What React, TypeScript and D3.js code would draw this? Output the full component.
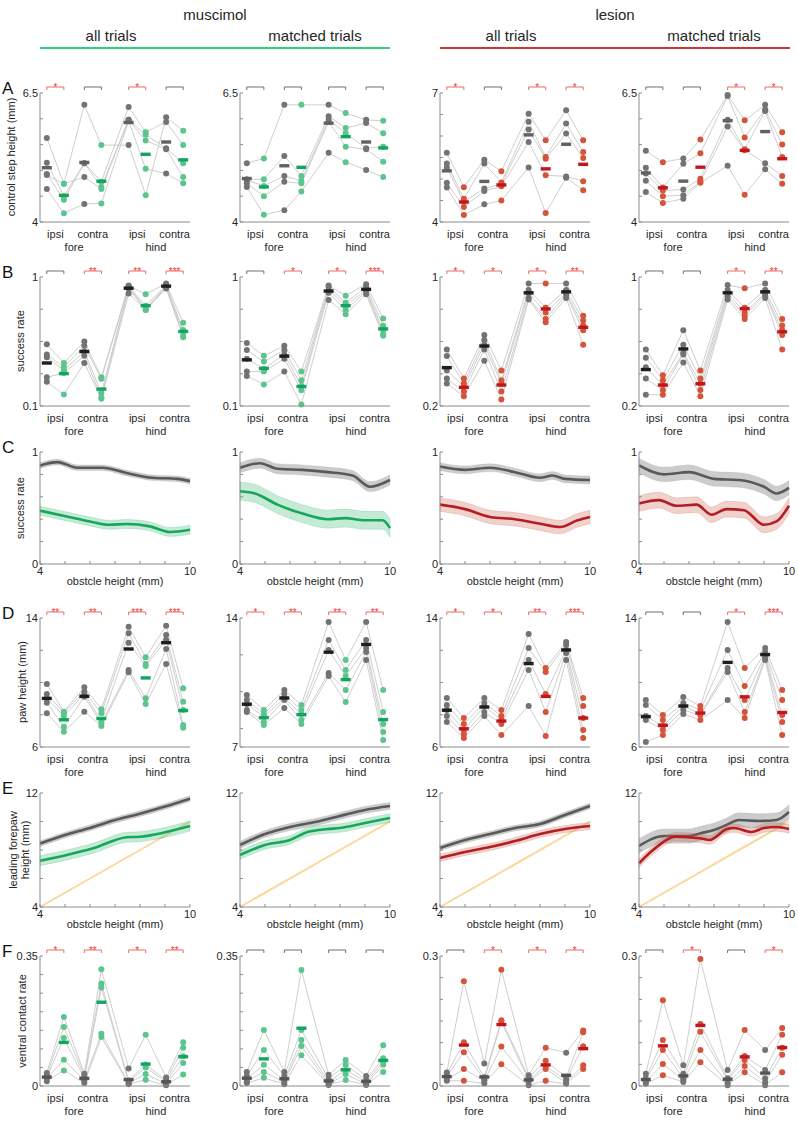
import React from 'react';
import * as d3 from 'd3';

const W = 798;
const H = 1121;
const colLeft = [40, 240, 440, 639];
const PW = 150;
const FONT = 'Liberation Sans, Arial, sans-serif';

// slot order: fore ipsi ctrl/treat, fore contra ctrl/treat, hind ipsi ctrl/treat, hind contra ctrl/treat
const slotPos = [1, 2, 3.2, 4.2, 5.8, 6.8, 8, 9];
const sideLabels = ['ipsi', 'contra', 'ipsi', 'contra'];
const limbLabels = ['fore', 'hind'];
const groupTitles = ['muscimol', 'lesion'];
const subTitles = ['all trials', 'matched trials', 'all trials', 'matched trials'];

// ---- row A: control step height (mm)
const stepHeight = [
  [[5.63, 5.15, 4.93, 4.91, 4.64], [4.74, 4.5, 4.43, 4.74, 4.17], [6.27, 5.14, 5.14, 4.87, 4.35], [5.49, 4.78, 4.68, 4.64, 4.36],
   [5.49, 6.23, 5.98, 5.98, 5.96], [4.52, 5.74, 5.69, 5.58, 5.03], [6.03, 5.94, 5.43, 5.41, 4.94], [5.77, 5.49, 5.14, 4.87, 4.75]],
  [[5.14, 4.83, 4.81, 4.75, 4.68], [5.23, 4.83, 4.7, 4.5, 4.14], [6.27, 5.28, 4.89, 4.78, 4.23], [6.27, 4.89, 4.8, 4.75, 4.59],
   [6.27, 6.05, 5.98, 5.94, 5.34], [6.11, 5.82, 5.72, 5.46, 5.16], [5.98, 5.92, 5.43, 5.41, 5.01], [5.96, 5.72, 5.46, 5.17, 4.87]],
  [[5.61, 5.36, 5.27, 4.91, 4.8], [4.81, 4.54, 4.47, 4.35, 4.16], [5.45, 5.36, 4.78, 4.72, 4.41], [5.18, 4.92, 4.88, 4.83, 4.5],
   [6.52, 6.33, 6.15, 5.86, 5.27], [5.9, 5.51, 5.47, 5.09, 4.21], [6.6, 6.29, 6.06, 5.06, 5.03], [5.9, 5.63, 5.49, 4.95, 4.74]],
  [[5.38, 5.05, 4.94, 4.8, 4.58], [5.16, 4.67, 4.61, 4.5, 4.37], [5.23, 5.13, 4.63, 4.52, 4.45], [5.6, 5.33, 4.84, 4.78, 4.76],
   [6.46, 6.44, 5.98, 5.85, 5.09], [5.97, 5.64, 5.41, 5.39, 4.53], [6.27, 6.18, 6.15, 5.14, 5.02], [5.74, 5.5, 5.26, 4.89, 4.74]],
];
const stepDomain = [[4, 6.5], [4, 6.5], [4, 7], [4, 6.5]];
const stepStars = [['*', '', '*', ''], ['', '', '', ''], ['*', '', '*', '*'], ['', '', '*', '*']];

// ---- row B: success rate
const successRate = [
  [[0.53, 0.46, 0.44, 0.3, 0.27], [0.4, 0.37, 0.35, 0.33, 0.18], [0.55, 0.52, 0.48, 0.45, 0.4], [0.3, 0.29, 0.19, 0.16, 0.15],
   [0.94, 0.935, 0.93, 0.92, 0.885], [0.88, 0.8, 0.78, 0.77, 0.77], [0.954, 0.942, 0.935, 0.93, 0.92], [0.68, 0.63, 0.62, 0.59, 0.58]],
  [[0.54, 0.49, 0.43, 0.34, 0.31], [0.45, 0.41, 0.36, 0.34, 0.25], [0.52, 0.49, 0.46, 0.43, 0.34], [0.34, 0.28, 0.24, 0.21, 0.11],
   [0.94, 0.93, 0.91, 0.89, 0.84], [0.87, 0.82, 0.8, 0.77, 0.74], [0.95, 0.93, 0.91, 0.9, 0.88], [0.71, 0.66, 0.63, 0.6, 0.59]],
  [[0.55, 0.51, 0.42, 0.37, 0.34], [0.37, 0.34, 0.32, 0.29, 0.26], [0.64, 0.61, 0.58, 0.55, 0.48], [0.42, 0.36, 0.34, 0.29, 0.24],
   [0.96, 0.92, 0.9, 0.87, 0.86], [0.96, 0.81, 0.78, 0.74, 0.72], [0.96, 0.92, 0.9, 0.89, 0.87], [0.76, 0.73, 0.7, 0.67, 0.58]],
  [[0.55, 0.5, 0.44, 0.37, 0.27], [0.39, 0.36, 0.33, 0.3, 0.27], [0.67, 0.58, 0.53, 0.52, 0.47], [0.42, 0.37, 0.34, 0.3, 0.26],
   [0.95, 0.92, 0.9, 0.88, 0.86], [0.93, 0.81, 0.78, 0.76, 0.74], [0.96, 0.92, 0.9, 0.89, 0.87], [0.74, 0.7, 0.67, 0.64, 0.55]],
];
const successDomain = [[0.1, 1], [0.1, 1], [0.2, 1], [0.2, 1]];
const successStars = [['', '**', '**', '***'], ['', '*', '*', '***'], ['*', '*', '*', '**'], ['', '', '*', '**']];

// ---- row C: success rate vs obstacle height
const curveCtrlX = [
  [4, 4.7, 5.5, 6.5, 7.5, 8.5, 9.5, 10],
  [4, 4.8, 5.5, 6.5, 7.5, 8.5, 9.2, 10],
  [4, 5, 6, 7, 8, 8.5, 9, 10],
  [4, 5, 6, 7, 8, 9, 9.5, 10],
];
const curveCtrlY = [
  [0.88, 0.91, 0.86, 0.86, 0.81, 0.77, 0.76, 0.74],
  [0.86, 0.9, 0.85, 0.84, 0.82, 0.79, 0.69, 0.75],
  [0.87, 0.84, 0.86, 0.82, 0.77, 0.79, 0.76, 0.75],
  [0.88, 0.8, 0.82, 0.76, 0.75, 0.69, 0.63, 0.68],
];
const curveCtrlSem = [0.025, 0.045, 0.035, 0.065];
const curveTreatX = [
  [4, 5.07, 6, 6.8, 7.47, 8.4, 9.2, 10],
  [4, 4.6, 5.5, 6.5, 7.5, 8.2, 9, 9.7, 10],
  [4, 5, 6, 7, 8, 8.8, 9.5, 10],
  [4, 4.8, 5.5, 6.3, 6.9, 7.5, 8.2, 9, 9.5, 10],
];
const curveTreatY = [
  [0.476, 0.425, 0.38, 0.35, 0.357, 0.336, 0.286, 0.306],
  [0.65, 0.63, 0.53, 0.45, 0.4, 0.41, 0.39, 0.39, 0.32],
  [0.53, 0.49, 0.42, 0.4, 0.36, 0.33, 0.39, 0.42],
  [0.54, 0.57, 0.52, 0.53, 0.44, 0.49, 0.48, 0.35, 0.38, 0.52],
];
const curveTreatSem = [0.04, 0.08, 0.06, 0.07];

// ---- row D: paw height (mm)
const pawHeight = [
  [[9.91, 9.29, 9.02, 8.75, 8.09], [8.19, 8.13, 7.92, 7.26, 6.95], [9.7, 9.43, 9.29, 9.12, 8.19], [8.34, 8.09, 7.63, 7.47, 7.3],
   [13.46, 13.05, 12.47, 10.78, 10.63], [11.56, 11.15, 11.02, 9.02, 8.67], [13.52, 12.95, 12.64, 12.08, 11.15], [9.64, 8.81, 8.29, 7.36, 7.2]],
  [[9.82, 9.55, 9.33, 9.01, 8.9], [9.01, 8.79, 8.63, 8.36, 8.19], [10.09, 9.88, 9.66, 9.55, 9.12], [9.28, 9.01, 8.79, 8.46, 8.25],
   [13.78, 12.81, 12.26, 11.02, 10.85], [11.72, 11.18, 10.85, 10.09, 9.44], [13.78, 12.81, 12.37, 12.15, 11.72], [10.09, 8.9, 8.25, 7.81, 7.38]],
  [[9.04, 8.6, 8.29, 7.92, 7.55], [7.8, 7.43, 7.05, 6.81, 6.56], [9.04, 8.73, 8.54, 8.17, 7.92], [8.29, 7.92, 7.67, 7.43, 6.74],
   [13.01, 12.14, 11.4, 10.78, 8.54], [10.9, 10.65, 9.29, 8.17, 6.68], [12.51, 12.33, 12.02, 11.83, 11.4], [9.04, 8.54, 7.8, 7.05, 6.56]],
  [[8.91, 8.6, 7.92, 7.67, 6.31], [7.98, 7.67, 7.3, 7.05, 6.74], [9.1, 8.73, 8.54, 8.29, 8.05], [8.54, 8.29, 8.05, 7.98, 7.67],
   [13.75, 12.02, 10.9, 10.65, 8.91], [10.9, 9.78, 8.91, 8.17, 7.8], [12.14, 11.89, 11.71, 11.52, 11.4], [9.53, 8.91, 7.98, 7.55, 6.74]],
];
const pawDomain = [[6, 14], [7, 14], [6, 14], [6, 14]];
const pawStars = [['**', '**', '***', '***'], ['*', '**', '**', '**'], ['*', '*', '**', '***'], ['', '', '*', '***']];

// ---- row E: leading forepaw height vs obstacle height
const leadCtrlX = [
  [4, 5, 6, 7, 8, 9, 10],
  [4, 5, 6, 7, 8, 9, 10],
  [4, 5, 6, 7, 8, 9, 10],
  [4, 5, 6, 6.5, 7, 7.5, 8, 8.8, 9.5, 10],
];
const leadCtrlY = [
  [8.45, 9.05, 9.55, 10.1, 10.55, 11.05, 11.6],
  [8.35, 9.12, 9.61, 9.96, 10.39, 10.81, 11.09],
  [8.14, 8.7, 9.12, 9.54, 9.82, 10.46, 11.09],
  [8.28, 8.98, 8.98, 9.19, 9.4, 9.75, 10.11, 10.04, 10.11, 10.67],
];
const leadCtrlSem = [0.2, 0.25, 0.2, 0.5];
const leadTreatX = [
  [4, 5.07, 6.13, 7.47, 8, 8.93, 10],
  [4, 5, 6, 6.7, 7.5, 8, 9, 10],
  [4, 5, 6, 7, 8, 9, 10],
  [4, 4.56, 5.49, 6.43, 6.83, 7.49, 7.8, 8.5, 9, 9.5, 10],
];
const leadTreatY = [
  [7.25, 7.65, 8.12, 8.89, 8.93, 9.21, 9.68],
  [7.65, 8.35, 8.7, 9.26, 9.47, 9.54, 9.89, 10.25],
  [7.44, 7.86, 8.21, 8.63, 9.12, 9.47, 9.68],
  [7.07, 8.0, 8.93, 8.82, 8.7, 9.45, 9.54, 9.26, 9.54, 9.61, 9.47],
];
const leadTreatSem = [0.35, 0.3, 0.25, 0.3];

// ---- row F: ventral contact rate
const contactRate = [
  [[0.035, 0.029, 0.023, 0.02, 0.013], [0.186, 0.159, 0.129, 0.071, 0.042], [0.033, 0.026, 0.02, 0.015, 0.008], [0.314, 0.276, 0.265, 0.141, 0.132],
   [0.047, 0.015, 0.011, 0.008, 0.005], [0.138, 0.058, 0.05, 0.032, 0.017], [0.023, 0.015, 0.011, 0.006, 0.002], [0.118, 0.103, 0.08, 0.062, 0.031]],
  [[0.038, 0.027, 0.019, 0.013, 0.008], [0.151, 0.097, 0.057, 0.038, 0.022], [0.038, 0.027, 0.016, 0.011, 0.005], [0.312, 0.151, 0.124, 0.108, 0.083],
   [0.03, 0.019, 0.011, 0.005, 0.003], [0.07, 0.057, 0.043, 0.032, 0.016], [0.027, 0.016, 0.011, 0.005, 0.003], [0.11, 0.075, 0.065, 0.057, 0.038]],
  [[0.031, 0.028, 0.023, 0.014, 0.012], [0.242, 0.101, 0.078, 0.039, 0.012], [0.052, 0.02, 0.015, 0.012, 0.006], [0.268, 0.152, 0.148, 0.091, 0.05],
   [0.025, 0.02, 0.014, 0.01, 0.002], [0.088, 0.058, 0.046, 0.039, 0.012], [0.077, 0.02, 0.014, 0.008, 0.005], [0.128, 0.124, 0.092, 0.048, 0.039]],
  [[0.028, 0.018, 0.014, 0.009, 0.005], [0.198, 0.106, 0.083, 0.051, 0.025], [0.048, 0.028, 0.018, 0.014, 0.009], [0.293, 0.143, 0.125, 0.083, 0.055],
   [0.037, 0.018, 0.014, 0.007, 0.002], [0.129, 0.069, 0.06, 0.046, 0.032], [0.083, 0.037, 0.018, 0.009, 0.002], [0.134, 0.118, 0.088, 0.072, 0.032]],
];
const contactDomain = [[0, 0.35], [0, 0.35], [0, 0.3], [0, 0.3]];
const contactStars = [['*', '**', '*', '**'], ['', '', '', ''], ['', '*', '*', '*'], ['', '*', '', '*']];

const palette = {
  musc: { line: '#17a75c', dot: '#5cc58e', bar: '#13a560', band: '#2fb56c', head: '#2ecf7f' },
  les: { line: '#b31d26', dot: '#d5533a', bar: '#c2161f', band: '#cc5a45', head: '#cc3530' },
};
const GRAY_DOT = '#737373';
const GRAY_LINE = '#595959';
const AXIS = '#8c8c8c';
const TXT = '#262626';

const fmt = (v: number) => String(+v.toFixed(3));

function YAxis({ left, y, ticks, labels }: any) {
  const [lo, hi] = y.domain();
  return (
    <g>
      <line x1={left} x2={left} y1={y(lo)} y2={y(hi)} stroke={AXIS} strokeWidth={1} />
      {ticks.map((t: number, i: number) => (
        <line key={i} x1={left} x2={left + 3} y1={y(t)} y2={y(t)} stroke={AXIS} strokeWidth={1} />
      ))}
      {labels.map((t: number, i: number) => (
        <text key={i} x={left - 2} y={y(t)} dy="0.35em" textAnchor="end" fontSize={11} fill={TXT}>{fmt(t)}</text>
      ))}
    </g>
  );
}

function DotPanel({ col, top, bottom, domain, ticks, slots, stars, ctrlBar }: any) {
  const left = colLeft[col];
  const pal = col < 2 ? palette.musc : palette.les;
  const x = d3.scaleLinear().domain([0.6, 9.4]).range([left, left + PW]);
  const y = d3.scaleLinear().domain(domain).range([bottom, top]);
  const n = slots[0].length;
  const animals = d3.range(n).map((i) => slots.map((s: number[]) => s[i]));
  const line = d3.line<number>().x((_, j) => x(slotPos[j])).y((v) => y(v));
  const means = slots.map((s: number[]) => d3.mean(s) as number);
  const yB = top - 6;
  return (
    <g>
      {animals.map((a, i) => (
        <path key={i} d={line(a) as string} fill="none" stroke="#c8c8c8" strokeWidth={0.9} />
      ))}
      {slots.map((s: number[], j: number) =>
        s.map((v, i) => (
          <circle key={j + '-' + i} cx={x(slotPos[j])} cy={y(v)} r={3} fill={j % 2 === 0 ? GRAY_DOT : pal.dot} />
        ))
      )}
      {means.map((m: number, j: number) => (
        <rect key={j} x={x(slotPos[j]) - 5} y={y(m) - 1.7} width={10} height={3.4} fill={j % 2 === 0 ? ctrlBar : pal.bar} />
      ))}
      <YAxis left={left} y={y} ticks={ticks} labels={[domain[1], domain[0]]} />
      <line x1={left} x2={left + PW} y1={bottom} y2={bottom} stroke={AXIS} strokeWidth={1} />
      {stars.map((s: string, k: number) => {
        const x1 = x(slotPos[2 * k]);
        const x2 = x(slotPos[2 * k + 1]);
        const c = s ? '#ef6a64' : '#6e6e6e';
        return (
          <g key={k}>
            <path d={`M${x1},${yB + 3}V${yB}H${x2}V${yB + 3}`} fill="none" stroke={c} strokeWidth={1} />
            {s && (
              <text x={(x1 + x2) / 2} y={yB + 3.5} textAnchor="middle" fontSize={10} fill="#ee3b3b">{s}</text>
            )}
          </g>
        );
      })}
      {sideLabels.map((l, k) => (
        <text key={k} x={x((slotPos[2 * k] + slotPos[2 * k + 1]) / 2)} y={bottom + 16} textAnchor="middle" fontSize={11} fill={TXT}>{l}</text>
      ))}
      {limbLabels.map((l, k) => (
        <text key={k} x={x((slotPos[4 * k + 1] + slotPos[4 * k + 2]) / 2)} y={bottom + 29} textAnchor="middle" fontSize={11} fill={TXT}>{l}</text>
      ))}
    </g>
  );
}

function LinePanel({ col, top, bottom, domain, ticks, ctrl, treat, diag }: any) {
  const left = colLeft[col];
  const pal = col < 2 ? palette.musc : palette.les;
  const x = d3.scaleLinear().domain([4, 10]).range([left, left + PW]);
  const y = d3.scaleLinear().domain(domain).range([bottom, top]);
  const series = [
    { ...ctrl, color: GRAY_LINE, fill: '#9a9a9a', op: 0.5 },
    { ...treat, color: pal.line, fill: pal.band, op: 0.28 },
  ];
  return (
    <g>
      {diag && (
        <line x1={x(4)} y1={y(4)} x2={x(10)} y2={y(10)} stroke="#fcd79b" strokeWidth={2} />
      )}
      {series.map((s, i) => {
        const pts = s.xs.map((xv: number, k: number) => [xv, s.ys[k]]);
        const area = d3.area<number[]>().x((d) => x(d[0])).y0((d) => y(d[1] - s.sem)).y1((d) => y(d[1] + s.sem)).curve(d3.curveMonotoneX);
        const ln = d3.line<number[]>().x((d) => x(d[0])).y((d) => y(d[1])).curve(d3.curveMonotoneX);
        return (
          <g key={i}>
            <path d={area(pts) as string} fill={s.fill} fillOpacity={s.op} stroke={s.fill} strokeOpacity={0.35} strokeWidth={0.6} />
            <path d={ln(pts) as string} fill="none" stroke={s.color} strokeWidth={2.6} />
          </g>
        );
      })}
      <YAxis left={left} y={y} ticks={ticks} labels={[domain[1], domain[0]]} />
      <line x1={left} x2={left + PW} y1={bottom} y2={bottom} stroke={AXIS} strokeWidth={1} />
      {d3.range(4, 11).map((t) => (
        <line key={t} x1={x(t)} x2={x(t)} y1={bottom} y2={bottom - 3} stroke={AXIS} strokeWidth={1} />
      ))}
      {[4, 10].map((t) => (
        <text key={t} x={x(t)} y={bottom + 11} textAnchor="middle" fontSize={11} fill={TXT}>{t}</text>
      ))}
      <text x={left + PW / 2} y={bottom + 21} textAnchor="middle" fontSize={11} fill={TXT}>obstcle height (mm)</text>
    </g>
  );
}

const rows = {
  A: [93, 222],
  B: [277, 406],
  C: [452, 564],
  D: [618, 747],
  E: [793, 907],
  F: [956, 1086],
};

const stepTicks = (d: number[], step: number) => d3.range(d[0], d[1] + step / 2, step);

export default function App() {
  const cols = [0, 1, 2, 3];
  return (
    <div style={{ position: 'absolute', left: 0, top: 0 }}>
      <svg width={W} height={H} style={{ display: 'block', fontFamily: FONT, background: '#fff' }}>
        {/* headers */}
        {groupTitles.map((t, g) => (
          <g key={g}>
            <text x={colLeft[2 * g] + 175} y={20} textAnchor="middle" fontSize={15} fill={TXT}>{t}</text>
            <line x1={colLeft[2 * g]} x2={colLeft[2 * g] + 350} y1={48} y2={48} stroke={g === 0 ? palette.musc.head : palette.les.head} strokeWidth={2} />
          </g>
        ))}
        {subTitles.map((t, c) => (
          <text key={c} x={colLeft[c] + (c % 2 === 0 ? 71 : 75)} y={41} textAnchor="middle" fontSize={15} fill={TXT}>{t}</text>
        ))}

        {/* panel letters */}
        {Object.entries(rows).map(([k, r]) => (
          <text key={k} x={2} y={r[0] + 1} fontSize={17} fill="#111">{k}</text>
        ))}

        {/* y labels, first column */}
        <text transform="translate(15,157) rotate(-90)" textAnchor="middle" fontSize={11} fill={TXT}>control step height (mm)</text>
        <text transform="translate(24,341) rotate(-90)" textAnchor="middle" fontSize={11} fill={TXT}>success rate</text>
        <text transform="translate(24,508) rotate(-90)" textAnchor="middle" fontSize={11} fill={TXT}>success rate</text>
        <text transform="translate(26,682) rotate(-90)" textAnchor="middle" fontSize={11} fill={TXT}>paw height (mm)</text>
        <text transform="translate(17,850) rotate(-90)" textAnchor="middle" fontSize={11} fill={TXT}>leading forepaw</text>
        <text transform="translate(29,850) rotate(-90)" textAnchor="middle" fontSize={11} fill={TXT}>height (mm)</text>
        <text transform="translate(26,1021) rotate(-90)" textAnchor="middle" fontSize={11} fill={TXT}>ventral contact rate</text>

        {cols.map((c) => (
          <g key={c}>
            <DotPanel col={c} top={rows.A[0]} bottom={rows.A[1]} domain={stepDomain[c]} ticks={stepTicks(stepDomain[c], 0.5)}
              slots={stepHeight[c]} stars={stepStars[c]} ctrlBar="#616161" />
            <DotPanel col={c} top={rows.B[0]} bottom={rows.B[1]} domain={successDomain[c]}
              ticks={stepTicks(successDomain[c], (successDomain[c][1] - successDomain[c][0]) / 4)}
              slots={successRate[c]} stars={successStars[c]} ctrlBar="#1e1e1e" />
            <LinePanel col={c} top={rows.C[0]} bottom={rows.C[1]} domain={[0, 1]} ticks={stepTicks([0, 1], 0.2)}
              ctrl={{ xs: curveCtrlX[c], ys: curveCtrlY[c], sem: curveCtrlSem[c] }}
              treat={{ xs: curveTreatX[c], ys: curveTreatY[c], sem: curveTreatSem[c] }} />
            <DotPanel col={c} top={rows.D[0]} bottom={rows.D[1]} domain={pawDomain[c]} ticks={[pawDomain[c][0], ...stepTicks([8, 14], 2)]}
              slots={pawHeight[c]} stars={pawStars[c]} ctrlBar="#1e1e1e" />
            <LinePanel col={c} top={rows.E[0]} bottom={rows.E[1]} domain={[4, 12]} ticks={stepTicks([4, 12], 2)} diag
              ctrl={{ xs: leadCtrlX[c], ys: leadCtrlY[c], sem: leadCtrlSem[c] }}
              treat={{ xs: leadTreatX[c], ys: leadTreatY[c], sem: leadTreatSem[c] }} />
            <DotPanel col={c} top={rows.F[0]} bottom={rows.F[1]} domain={contactDomain[c]} ticks={stepTicks(contactDomain[c], 0.05)}
              slots={contactRate[c]} stars={contactStars[c]} ctrlBar="#555555" />
          </g>
        ))}
      </svg>
    </div>
  );
}
